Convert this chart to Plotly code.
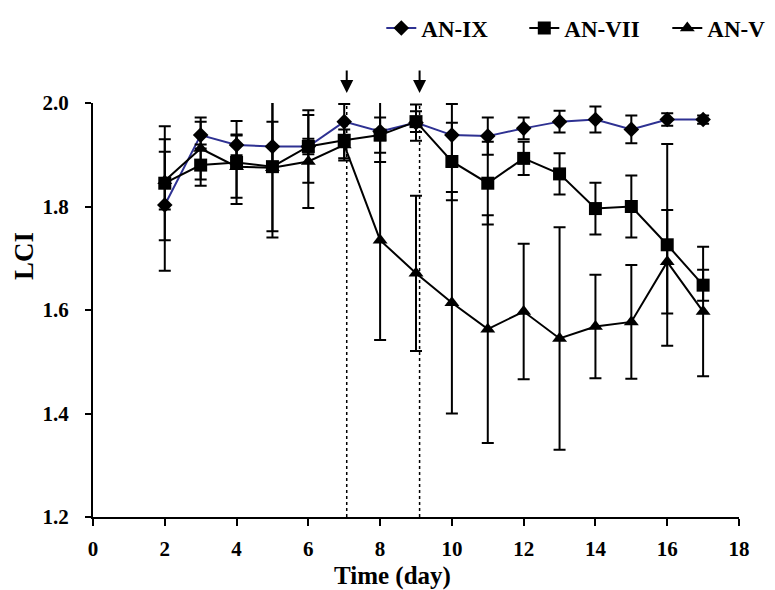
import plotly.graph_objects as go

days = [2, 3, 4, 5, 6, 7, 8, 9, 10, 11, 12, 13, 14, 15, 16, 17]

an_ix = [1.803, 1.938, 1.919, 1.916, 1.916, 1.964, 1.945, 1.962, 1.938, 1.936, 1.951, 1.964, 1.968, 1.949, 1.968, 1.968]
an_ix_err = [0.127, 0.026, 0.020, 0.048, 0.015, 0.034, 0.059, 0.035, 0.060, 0.036, 0.021, 0.021, 0.025, 0.027, 0.012, 0.008]

an_vii = [1.845, 1.880, 1.885, 1.877, 1.916, 1.928, 1.938, 1.964, 1.887, 1.845, 1.893, 1.863, 1.796, 1.800, 1.726, 1.648]
an_vii_err = [0.110, 0.040, 0.080, 0.125, 0.070, 0.035, 0.034, 0.020, 0.075, 0.080, 0.032, 0.040, 0.050, 0.060, 0.195, 0.030]

an_v = [1.850, 1.912, 1.877, 1.875, 1.887, 1.919, 1.735, 1.671, 1.614, 1.563, 1.597, 1.545, 1.568, 1.577, 1.693, 1.597]
an_v_err = [0.056, 0.060, 0.060, 0.135, 0.090, 0.030, 0.193, 0.150, 0.214, 0.220, 0.131, 0.215, 0.100, 0.110, 0.100, 0.125]

event_days = [7.07, 9.1]

x_ticks = [0, 2, 4, 6, 8, 10, 12, 14, 16, 18]
y_ticks = [1.2, 1.4, 1.6, 1.8, 2.0]

FONT = "Liberation Serif"

def err(arr):
    return dict(type="data", array=arr, visible=True, color="black", thickness=2, width=6)

fig = go.Figure()
fig.add_trace(go.Scatter(
    x=days, y=an_ix, name="AN-IX", mode="lines+markers", legendrank=1,
    line=dict(color="#2e3192", width=2),
    marker=dict(symbol="diamond", size=12, color="black"),
    error_y=err(an_ix_err)))
fig.add_trace(go.Scatter(
    x=days, y=an_v, name="AN-V", mode="lines+markers", legendrank=3,
    line=dict(color="black", width=2),
    marker=dict(symbol="triangle-up", size=13, color="black"),
    error_y=err(an_v_err)))
fig.add_trace(go.Scatter(
    x=days, y=an_vii, name="AN-VII", mode="lines+markers", legendrank=2,
    line=dict(color="black", width=2),
    marker=dict(symbol="square", size=13, color="black"),
    error_y=err(an_vii_err)))

for d in event_days:
    fig.add_shape(type="line", x0=d, x1=d, y0=1.2, y1=2.0, xref="x", yref="y",
                  line=dict(color="black", width=1.5, dash="dot"), layer="below")
    fig.add_annotation(x=d, y=1.024, xref="x", yref="paper", text="", showarrow=True,
                       arrowhead=2, arrowsize=1.3, arrowwidth=2, arrowcolor="black",
                       ax=0, ay=-24, standoff=0)

fig.add_annotation(x=0.464, y=-0.143, xref="paper", yref="paper", text="<b>Time (day)</b>",
                   showarrow=False, xanchor="center", yanchor="middle",
                   font=dict(family=FONT, size=25, color="black"))
fig.add_annotation(x=-0.107, y=0.630, xref="paper", yref="paper", text="<b>LCI</b>",
                   showarrow=False, xanchor="center", yanchor="middle", textangle=-90,
                   font=dict(family=FONT, size=27, color="black"))

fig.update_layout(
    width=775, height=590,
    margin=dict(l=93, r=36, t=103, b=73, autoexpand=False),
    plot_bgcolor="white", paper_bgcolor="white",
    font=dict(family=FONT, color="black", size=20),
    showlegend=True,
    legend=dict(orientation="h", xref="container", yref="container",
                x=0.492, xanchor="left", y=1 - 28 / 590, yanchor="middle",
                font=dict(family=FONT, size=23, color="black", weight="bold"),
                entrywidth=98, tracegroupgap=0, bgcolor="rgba(0,0,0,0)"),
    xaxis=dict(range=[0, 18], tickvals=x_ticks, ticktext=[str(v) for v in x_ticks],
               automargin=False,
               showline=True, linecolor="black", linewidth=2, showgrid=False, zeroline=False,
               ticks="outside", ticklen=7, tickwidth=2, tickcolor="black",
               ticklabelstandoff=5,
               tickfont=dict(family=FONT, size=21, weight="bold")),
    yaxis=dict(range=[1.2, 2.0], tickvals=y_ticks, ticktext=["1.2", "1.4", "1.6", "1.8", "2.0"],
               automargin=False,
               showline=True, linecolor="black", linewidth=2, showgrid=False, zeroline=False,
               ticks="outside", ticklen=6, tickwidth=2, tickcolor="black",
               ticklabelstandoff=12,
               tickfont=dict(family=FONT, size=21, weight="bold")),
)

fig.write_html("out.html", config={"responsive": False, "displayModeBar": False},
               post_script="document.body.style.margin='0';")
